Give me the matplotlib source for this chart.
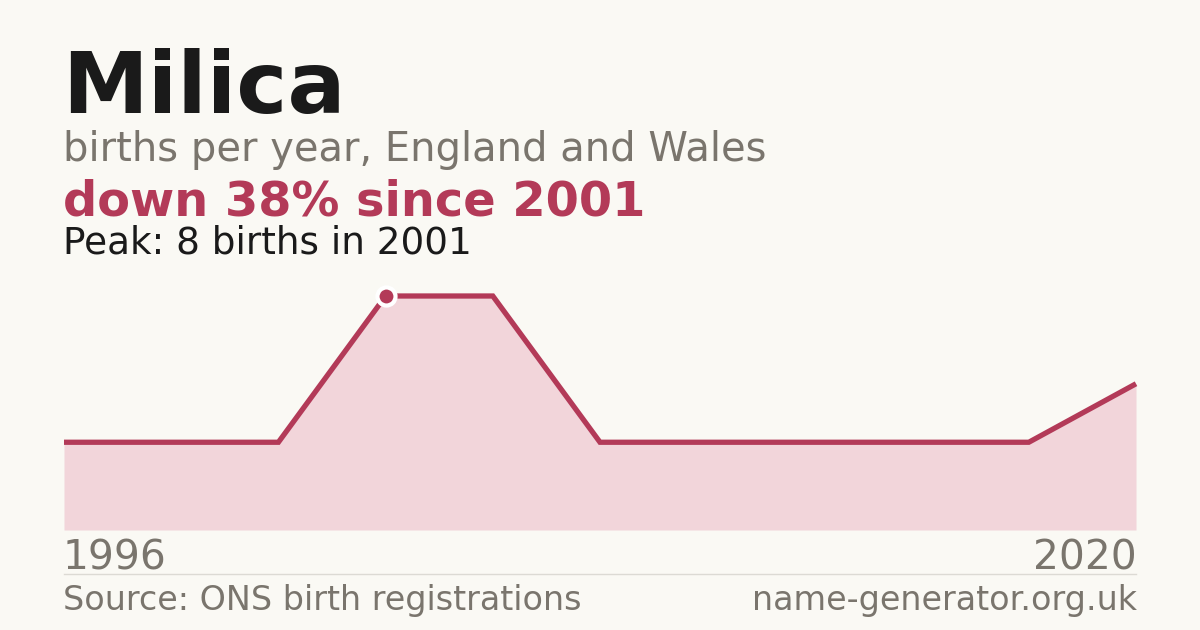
import matplotlib
matplotlib.use("Agg")
import matplotlib.pyplot as plt

plt.rcParams["font.family"] = ["DejaVu Sans"]

# data: years that have a registration, births per year
years = [1996, 1998, 2000, 2001, 2002, 2004, 2008, 2011, 2014, 2017, 2020]
births = [3, 3, 3, 8, 8, 3, 3, 3, 3, 3, 5]
peak_year = 2001
peak_value = 8

BG = "#faf9f4"
INK = "#1a1a1a"
GREY = "#7a756d"
RED = "#b33a58"
FILL = "#f2d5da"

W, H = 1200, 630
fig = plt.figure(figsize=(12, 6.3), dpi=100, facecolor=BG)


def px(x, y):
    return x / W, 1 - y / H


# plot area: x 64..1136, baseline y=530, peak at y=296
left, right, bottom, top = 64, 1136, 530, 296
ax = fig.add_axes([left / W, 1 - bottom / H, (right - left) / W, (bottom - top) / H])
ax.set_facecolor("none")
idx = list(range(len(years)))
ax.fill_between(idx, births, 0, color=FILL, linewidth=0)
ax.plot(idx, births, color=RED, linewidth=3.8, solid_capstyle="butt", solid_joinstyle="miter",
        clip_on=False)
pi = years.index(peak_year)
ax.plot([pi], [peak_value], "o", color=RED, markersize=13, markeredgecolor="white",
        markeredgewidth=3, clip_on=False, zorder=5)
ax.set_xlim(0, len(years) - 1)
ax.set_ylim(0, peak_value)
ax.axis("off")

# headings
fig.text(*px(62, 113), "Milica", fontsize=62, fontweight="bold", color=INK, va="baseline")
fig.text(*px(63, 161), "births per year, England and Wales", fontsize=28.8, color=GREY, va="baseline")
fig.text(*px(63, 215), "down 38% since 2001", fontsize=34.5, fontweight="bold", color=RED, va="baseline")
fig.text(*px(63, 254), f"Peak: {peak_value} births in {peak_year}", fontsize=26.9, color=INK, va="baseline")

# year labels
fig.text(*px(63, 570), str(years[0]), fontsize=29.3, color=GREY, va="baseline")
fig.text(*px(1137, 570), str(years[-1]), fontsize=29.3, color=GREY, va="baseline", ha="right")

# divider + footer
fig.add_artist(plt.Line2D([left / W, right / W], [1 - 574 / H] * 2, color="#dcdad4", linewidth=1))
fig.text(*px(63, 610), "Source: ONS birth registrations", fontsize=24, color=GREY, va="baseline")
fig.text(*px(1137, 610), "name-generator.org.uk", fontsize=24, color=GREY, va="baseline", ha="right")

fig.savefig("out.png", dpi=100, facecolor=BG)
